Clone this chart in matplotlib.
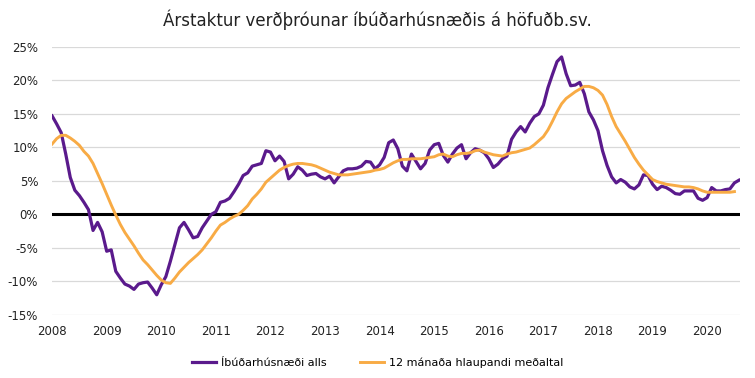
import matplotlib
matplotlib.use("Agg")
import matplotlib.pyplot as plt
import numpy as np

years = list(range(2008, 2021))

# Íbúðarhúsnæði alls, monthly, Jan 2008 - Aug 2020 (%)
ibud = [14.7, 13.5, 12.2, 9.0, 5.5, 3.6, 2.8, 1.8, 0.7, -2.4, -1.2, -2.6,
        -5.5, -5.3, -8.5, -9.5, -10.4, -10.7, -11.2, -10.4, -10.2, -10.1, -11.0, -12.0,
        -10.5, -9.3, -7.0, -4.5, -2.0, -1.2, -2.3, -3.5, -3.3, -2.0, -1.0, 0.0,
        0.4, 1.8, 2.0, 2.4, 3.4, 4.5, 5.8, 6.2, 7.2, 7.4, 7.6, 9.5,
        9.3, 8.0, 8.7, 7.9, 5.3, 6.0, 7.1, 6.6, 5.8, 6.0, 6.1, 5.6,
        5.3, 5.7, 4.7, 5.6, 6.5, 6.8, 6.8, 6.9, 7.2, 7.9, 7.8, 6.8,
        7.4, 8.5, 10.7, 11.1, 9.8, 7.2, 6.5, 9.0, 7.9, 6.8, 7.6, 9.6,
        10.4, 10.6, 8.8, 7.8, 9.0, 9.9, 10.4, 8.3, 9.2, 9.8, 9.6, 9.2,
        8.3, 7.0, 7.5, 8.3, 8.7, 11.2, 12.3, 13.1, 12.3, 13.6, 14.6, 15.0,
        16.3, 18.9, 20.9, 22.8, 23.5, 21.0, 19.2, 19.3, 19.7, 18.0, 15.3, 14.1,
        12.5, 9.5, 7.3, 5.6, 4.7, 5.2, 4.8, 4.1, 3.8, 4.4, 5.9, 5.8,
        4.5, 3.7, 4.2, 4.0, 3.6, 3.1, 3.0, 3.5, 3.5, 3.5, 2.4, 2.1,
        2.5, 4.0, 3.5, 3.5, 3.7, 3.8, 4.7, 5.1]

# 12 mánaða hlaupandi meðaltal, Jan 2008 - Jul 2020 (%)
medaltal = [10.5, 11.3, 11.8, 11.8, 11.4, 10.9, 10.3, 9.4, 8.7, 7.6, 6.1, 4.6,
            3.0, 1.4, -0.1, -1.5, -2.7, -3.7, -4.7, -5.8, -6.8, -7.5, -8.3, -9.1,
            -9.8, -10.2, -10.3, -9.5, -8.6, -7.9, -7.2, -6.6, -6.0, -5.3, -4.4, -3.5,
            -2.5, -1.6, -1.2, -0.7, -0.3, 0.0, 0.6, 1.3, 2.3, 3.0, 3.8, 4.8,
            5.4, 6.0, 6.6, 7.0, 7.3, 7.5, 7.6, 7.6, 7.5, 7.4, 7.2, 6.9,
            6.6, 6.3, 6.1, 5.9, 5.9, 5.9, 6.0, 6.1, 6.2, 6.3, 6.4, 6.6,
            6.7, 6.9, 7.3, 7.7, 8.0, 8.2, 8.2, 8.3, 8.3, 8.3, 8.4, 8.5,
            8.6, 8.9, 9.0, 8.7, 8.6, 8.9, 9.1, 9.1, 9.2, 9.5, 9.6, 9.3,
            9.1, 8.9, 8.8, 8.7, 9.0, 9.2, 9.3, 9.5, 9.7, 9.9, 10.4, 11.0,
            11.6, 12.6, 13.9, 15.3, 16.5, 17.3, 17.8, 18.3, 18.7, 19.1, 19.1, 18.9,
            18.5, 17.8, 16.4, 14.6, 13.1, 12.0, 10.9, 9.7, 8.5, 7.5, 6.6, 5.9,
            5.2, 4.9, 4.7, 4.5, 4.4, 4.3, 4.2, 4.1, 4.1, 4.0, 3.8, 3.5,
            3.3, 3.3, 3.3, 3.3, 3.3, 3.3, 3.4]

purple = '#5a1a8c'
orange = '#f8ab45'

fig = plt.figure(figsize=(7.55, 3.78), dpi=100)
ax = fig.add_axes([0.069, 0.167, 0.911, 0.709])

ax.plot(np.arange(len(ibud)), ibud, color=purple, lw=2.3, label='Íbúðarhúsnæði alls',
        solid_joinstyle='round', zorder=3)
ax.plot(np.arange(len(medaltal)), medaltal, color=orange, lw=2.1,
        label='12 mánaða hlaupandi meðaltal', solid_joinstyle='round', zorder=4)
ax.axhline(0, color='black', lw=2.2, zorder=2)

ax.set_ylim(-15, 25)
ax.set_xlim(0, 151.2)
ax.set_yticks(range(-15, 26, 5))
ax.set_yticklabels([f'{v}%' for v in range(-15, 26, 5)])
ax.set_xticks([12 * i for i in range(len(years))])
ax.set_xticklabels([str(y) for y in years])
ax.yaxis.grid(True, color='#d9d9d9', lw=0.9)
ax.set_axisbelow(True)
for s in ax.spines.values():
    s.set_visible(False)
ax.tick_params(length=0, labelsize=8.5, colors='#222222')
ax.tick_params(axis='x', pad=7)
ax.tick_params(axis='y', pad=10)

fig.suptitle('Árstaktur verðþróunar íbúðarhúsnæðis á höfuðb.sv.', x=0.5, y=0.975,
             fontsize=12, color='#222222')

fig.legend(loc='lower center', bbox_to_anchor=(0.5, 0.0), ncol=2, frameon=False,
           fontsize=8, handlelength=2.2, columnspacing=3.0, handletextpad=0.4)

fig.savefig('out.png', dpi=100)
